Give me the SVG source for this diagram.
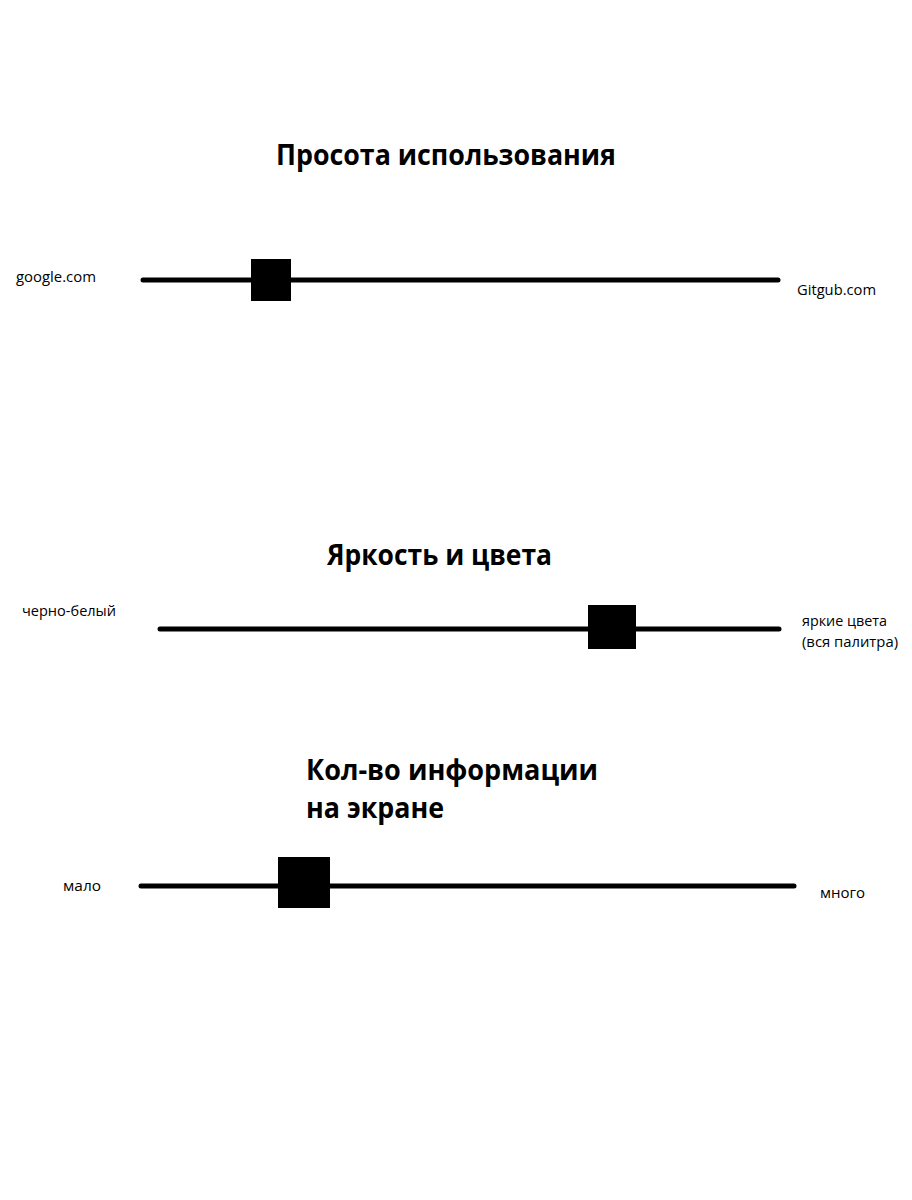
<svg xmlns="http://www.w3.org/2000/svg" width="912" height="1200" viewBox="0 0 912 1200">
<style>
.t{font-family:"Open Sans","Liberation Sans",sans-serif;font-weight:bold;font-size:28px;fill:#000}
.l{font-family:"Open Sans","Liberation Sans",sans-serif;font-size:14px;fill:#000}
.bar{stroke:#000;stroke-width:5;stroke-linecap:round;fill:none}
.knob{fill:#000}
</style>
<rect width="912" height="1200" fill="#fff"/>
<g id="title1"><text class="t" x="276" y="165" textLength="340" lengthAdjust="spacingAndGlyphs">Просота использования</text></g>
<g id="title2"><text class="t" x="327" y="565" textLength="225" lengthAdjust="spacingAndGlyphs">Яркость и цвета</text></g>
<g id="title3"><text class="t" x="306" y="780" textLength="292" lengthAdjust="spacingAndGlyphs">Кол-во информации</text><text class="t" x="306" y="818" textLength="138" lengthAdjust="spacingAndGlyphs">на экране</text></g>
<g id="connectors">
<line class="bar" x1="143" y1="280" x2="778" y2="280"/>
<line class="bar" x1="160" y1="629" x2="779" y2="629"/>
<line class="bar" x1="141" y1="886" x2="794" y2="886"/>
</g>
<g id="slider1">
<text class="l" x="16" y="282" textLength="80" lengthAdjust="spacingAndGlyphs">google.com</text>
<rect class="knob" x="251" y="259" width="40" height="42"/>
<text class="l" x="797" y="295" textLength="79" lengthAdjust="spacingAndGlyphs">Gitgub.com</text>
</g>
<g id="slider2">
<text class="l" x="22" y="616" textLength="94" lengthAdjust="spacingAndGlyphs">черно-белый</text>
<rect class="knob" x="588" y="605" width="48" height="44"/>
<text class="l" x="802" y="626" textLength="85" lengthAdjust="spacingAndGlyphs">яркие цвета</text>
<text class="l" x="802" y="647" textLength="96" lengthAdjust="spacingAndGlyphs">(вся палитра)</text>
</g>
<g id="slider3">
<text class="l" x="63" y="891" textLength="38" lengthAdjust="spacingAndGlyphs">мало</text>
<rect class="knob" x="278" y="857" width="52" height="51"/>
<text class="l" x="820" y="898" textLength="45" lengthAdjust="spacingAndGlyphs">много</text>
</g>
</svg>
